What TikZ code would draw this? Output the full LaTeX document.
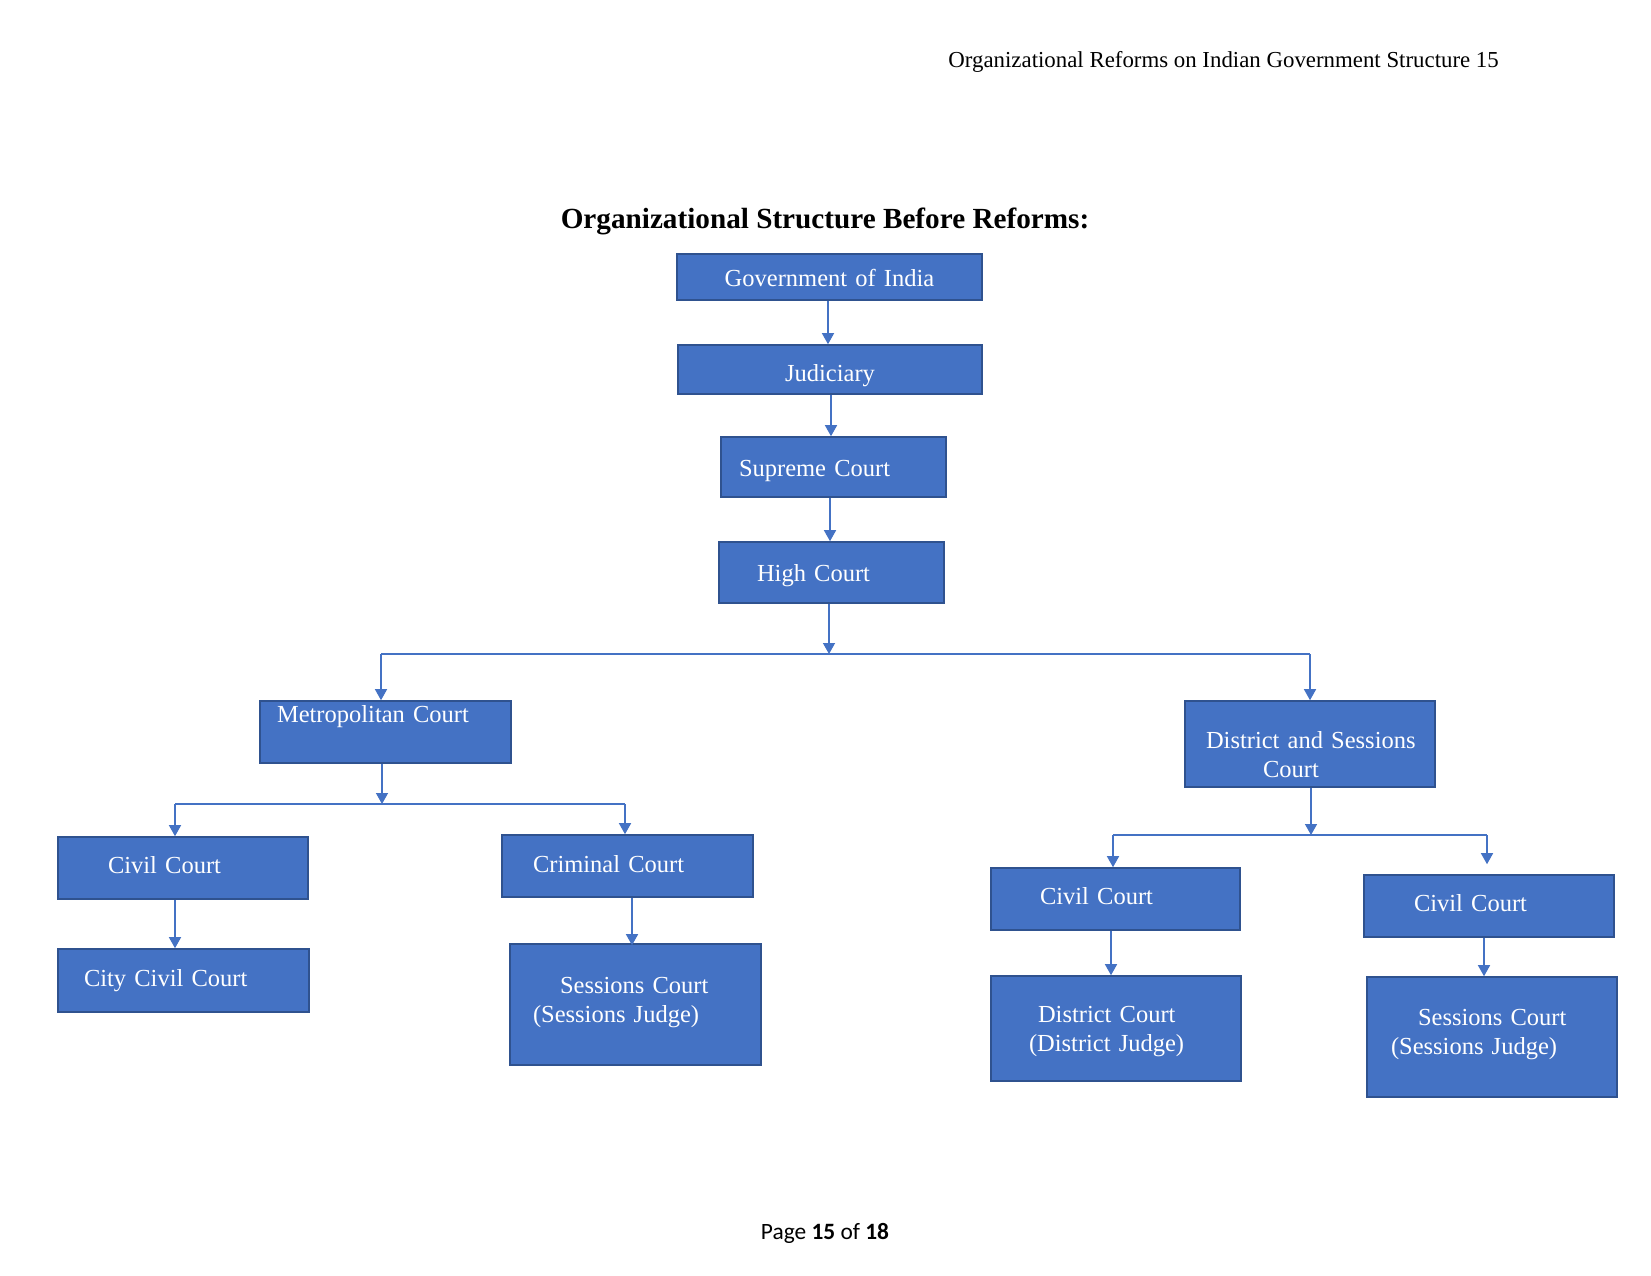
\documentclass[tikz,border=0pt]{standalone}
\usepackage{fontspec}
\setmainfont{Liberation Serif}
\newfontfamily\footfont{Carlito}
\usetikzlibrary{arrows.meta}
\definecolor{blu}{HTML}{4472C4}
\definecolor{bord}{HTML}{2F528F}
\begin{document}
\begin{tikzpicture}[x=1pt,y=-1pt,
  bx/.style={draw=bord, fill=blu, line width=1.6pt, text=white, inner sep=0pt,
    font=\fontsize{24.5}{29}\selectfont, align=left},
  one/.style={text height=17pt+(#1), text depth=6pt-(#1)},
  two/.style={text height=17pt+(#1), text depth=35pt-(#1)},
  conn/.style={draw=blu, line width=1.4pt},
  arr/.style={conn, -{Triangle[width=12pt,length=11pt]}}]
\useasboundingbox (0,0) rectangle (1651,1275);
\fill[white] (0,0) rectangle (1651,1275);

% header, title, footer
\node[anchor=base east, inner sep=0pt, font=\fontsize{22.85}{27}\selectfont] (hdr) at (1499,67)
  {Organizational Reforms on Indian Government Structure 15};
\node[anchor=base, inner sep=0pt, font=\bfseries\fontsize{29.2}{33}\selectfont] (title) at (825,228)
  {Organizational Structure Before Reforms:};
\node[anchor=base, inner sep=0pt, font=\footfont\fontsize{23.4}{27}\selectfont] (foot) at (825,1239)
  {Page \textbf{15} of \textbf{18}};

% boxes
\node[bx, align=center, one=3.5pt, text width=305pt, minimum height=46pt] (gov) at (829.5,277) {Government of India};
\node[bx, align=center, one=6pt, text width=304pt, minimum height=49pt] (jud) at (830,369.5) {Judiciary};
\node[bx, one=3.5pt, text width=225pt, minimum height=60pt] (sup) at (833.5,467) {\hspace*{18pt}Supreme Court};
\node[bx, one=3pt, text width=225pt, minimum height=61pt] (high) at (831.5,572.5) {\hspace*{38pt}High Court};

\node[bx, one=-15pt, text width=251pt, minimum height=62pt] (metro) at (385.5,732) {\hspace*{17pt}Metropolitan Court};
\node[bx, two=13pt, text width=250pt, minimum height=86pt] (dsc) at (1310,744) {\hspace*{21pt}District and Sessions\\\hspace*{78pt}Court};

\node[bx, one=-0.5pt, text width=250pt, minimum height=62pt] (civA) at (183,868) {\hspace*{50pt}Civil Court};
\node[bx, one=0.5pt, text width=251pt, minimum height=62pt] (crim) at (627.5,866) {\hspace*{31pt}Criminal Court};
\node[bx, one=0pt, text width=251pt, minimum height=63pt] (city) at (183.5,980.5) {\hspace*{26pt}City Civil Court};
\node[bx, two=-2.5pt, text width=251pt, minimum height=121pt] (sessA) at (635.5,1004.5) {\hspace*{50pt}Sessions Court\\\hspace*{23pt}(Sessions Judge)};

\node[bx, one=-0.5pt, text width=249pt, minimum height=62pt] (civB) at (1115.5,899) {\hspace*{49pt}Civil Court};
\node[bx, one=-0.5pt, text width=250pt, minimum height=62pt] (civC) at (1489,906) {\hspace*{50pt}Civil Court};
\node[bx, two=2.5pt, text width=250pt, minimum height=105pt] (distC) at (1116,1028.5) {\hspace*{47pt}District Court\\\hspace*{38pt}(District Judge)};
\node[bx, two=-2.5pt, text width=250pt, minimum height=120pt] (sessB) at (1492,1037) {\hspace*{51pt}Sessions Court\\\hspace*{24pt}(Sessions Judge)};

% vertical link positions
\coordinate (x1) at (828,0);
\coordinate (x2) at (831,0);
\coordinate (x3) at (830,0);
\coordinate (x4) at (632,0);
\coordinate (x5) at (1111,0);
\coordinate (x6) at (1484,0);

% connectors
\draw[arr] (gov.south -| x1) -- (jud.north -| x1);
\draw[arr] (jud.south -| x2) -- (sup.north -| x2);
\draw[arr] (sup.south -| x3) -- (high.north -| x3);

\coordinate (busL) at (381,654);
\coordinate (busC) at (829,654);
\coordinate (busR) at (1310,654);
\draw[conn] (busL) -- (busR);
\draw[arr] (high.south -| busC) -- (busC);
\draw[arr] (busL) -- (busL |- metro.north);
\draw[arr] (busR) -- (busR |- dsc.north);

\coordinate (mL) at (175,804);
\coordinate (mC) at (382,804);
\coordinate (mR) at (625,804);
\draw[conn] (mL) -- (mR);
\draw[arr] (metro.south -| mC) -- (mC);
\draw[arr] (mL) -- (mL |- civA.north);
\draw[arr] (mR) -- (mR |- crim.north);
\draw[arr] (civA.south -| mL) -- (city.north -| mL);
\draw[arr] (crim.south -| x4) -- ([yshift=-2pt]sessA.north -| x4);

\coordinate (dL) at (1113,835);
\coordinate (dC) at (1311,835);
\coordinate (dR) at (1487,835);
\draw[conn] (dL) -- (dR);
\draw[arr] (dsc.south -| dC) -- (dC);
\draw[arr] (dL) -- (dL |- civB.north);
\draw[arr, shorten >=10pt] (dR) -- (dR |- civC.north);
\draw[arr] (civB.south -| x5) -- (distC.north -| x5);
\draw[arr] (civC.south -| x6) -- (sessB.north -| x6);
\end{tikzpicture}
\end{document}
